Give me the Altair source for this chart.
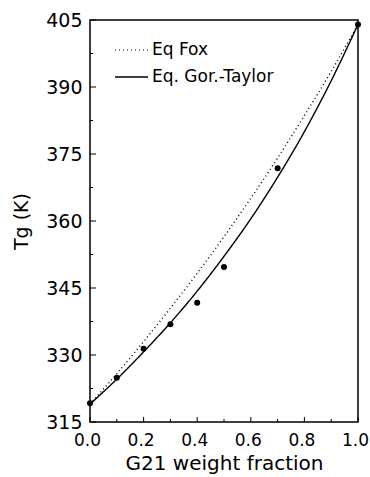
import altair as alt
import pandas as pd

# Model curves (G21 weight fraction -> Tg in K)
w_grid = [0.0, 0.1, 0.2, 0.3, 0.4, 0.5, 0.6, 0.7, 0.8, 0.9, 1.0]
tg_fox = [319.0, 325.8, 333.0, 340.5, 348.3, 356.5, 365.1, 374.1, 383.6, 393.5, 404.0]
tg_gt = [319.0, 324.6, 330.7, 337.2, 344.3, 352.1, 360.5, 369.8, 380.0, 391.4, 404.0]

# Experimental points
w_exp = [0.0, 0.1, 0.2, 0.3, 0.4, 0.5, 0.7, 1.0]
tg_exp = [319.2, 324.9, 331.4, 336.9, 341.7, 349.7, 371.8, 404.0]

series_names = ["Eq Fox", "Eq. Gor.-Taylor"]

# Axis ticks
y_major = [315, 330, 345, 360, 375, 390, 405]
y_minor = [322.5, 337.5, 352.5, 367.5, 382.5, 397.5]
x_major = [0.0, 0.2, 0.4, 0.6, 0.8, 1.0]
x_minor = [0.1, 0.3, 0.5, 0.7, 0.9]

curves = pd.concat([
    pd.DataFrame({"series": series_names[0], "w": w_grid, "tg": tg_fox}),
    pd.DataFrame({"series": series_names[1], "w": w_grid, "tg": tg_gt}),
])
exp = pd.DataFrame({"w": w_exp, "tg": tg_exp})

xscale = alt.Scale(domain=[0, 1], nice=False, zero=False)
yscale = alt.Scale(domain=[315, 405], nice=False, zero=False)

x_axis = alt.Axis(values=x_major, format=".1f", title="G21 weight fraction",
                  labelPadding=10, labelOffset=-3, titlePadding=5, labelFlush=False,
                  labelFontSize=17, titleFontSize=20)
y_axis = alt.Axis(values=y_major, format="d", title="Tg (K)",
                  labelPadding=8, titlePadding=14, labelFontSize=19, titleFontSize=19)

lines = alt.Chart(curves).mark_line(color="black", strokeWidth=1.4, interpolate="monotone").encode(
    x=alt.X("w:Q", scale=xscale, axis=x_axis),
    y=alt.Y("tg:Q", scale=yscale, axis=y_axis),
    strokeDash=alt.StrokeDash("series:N", scale=alt.Scale(domain=series_names, range=[[1, 3], [1, 0]]), legend=None),
    detail="series:N",
)

points = alt.Chart(exp).mark_circle(size=36, color="black", opacity=1).encode(
    x=alt.X("w:Q", scale=xscale, axis=x_axis),
    y=alt.Y("tg:Q", scale=yscale, axis=y_axis),
)

def yticks(vals, length):
    return alt.Chart(pd.DataFrame({"v": vals})).mark_rule(color="black", strokeWidth=1).encode(
        y=alt.Y("v:Q", scale=yscale, axis=y_axis), x=alt.value(0), x2=alt.value(length))

def xticks(vals, length):
    return alt.Chart(pd.DataFrame({"v": vals})).mark_rule(color="black", strokeWidth=1).encode(
        x=alt.X("v:Q", scale=xscale, axis=x_axis), y=alt.value(402), y2=alt.value(402 - length))

leg_df1 = pd.DataFrame({"label": [series_names[0]]})
leg_df2 = pd.DataFrame({"label": [series_names[1]]})
leg_rule1 = alt.Chart(leg_df1).mark_rule(color="black", strokeWidth=1.2, strokeDash=[1, 3]).encode(
    x=alt.value(25), x2=alt.value(58), y=alt.value(30))
leg_rule2 = alt.Chart(leg_df2).mark_rule(color="black", strokeWidth=1.4).encode(
    x=alt.value(25), x2=alt.value(58), y=alt.value(57))
leg_text1 = alt.Chart(leg_df1).mark_text(align="left", baseline="middle", fontSize=17, font="DejaVu Sans", color="black").encode(
    x=alt.value(62), y=alt.value(30), text="label:N")
leg_text2 = alt.Chart(leg_df2).mark_text(align="left", baseline="middle", fontSize=17, font="DejaVu Sans", color="black").encode(
    x=alt.value(62), y=alt.value(57), text="label:N")

chart = alt.layer(
    lines, points,
    yticks(y_major, 6), yticks(y_minor, 3), xticks(x_major, 5), xticks(x_minor, 3),
    leg_rule1, leg_rule2, leg_text1, leg_text2,
).properties(
    width=268, height=402,
    autosize="none",
    padding={"left": 90, "top": 20, "right": 12, "bottom": 55},
).configure_view(
    stroke="black", strokeWidth=1.5,
).configure_axis(
    domain=False, ticks=False, grid=False,
    labelFont="DejaVu Sans", labelColor="black",
    titleFont="DejaVu Sans", titleFontWeight="normal", titleColor="black",
)

chart.save("out.html", embed_options={"renderer": "svg", "actions": False})
